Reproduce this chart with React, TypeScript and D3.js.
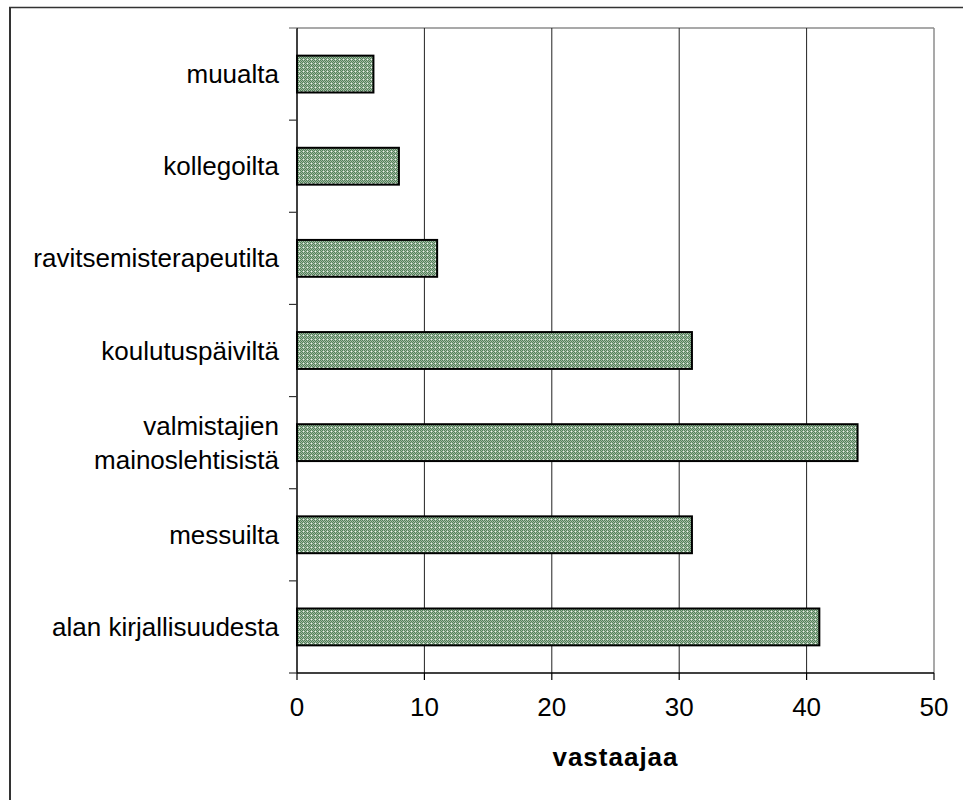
import React from "react";
import * as d3 from "d3";

// Sources of information, top to bottom, and respondent counts
const categories: string[][] = [
  ["muualta"],
  ["kollegoilta"],
  ["ravitsemisterapeutilta"],
  ["koulutuspäiviltä"],
  ["valmistajien", "mainoslehtisistä"],
  ["messuilta"],
  ["alan kirjallisuudesta"],
];
const values: number[] = [6, 8, 11, 31, 44, 31, 41];
const xTicks: number[] = [0, 10, 20, 30, 40, 50];
const xTitle = "vastaajaa";

const W = 963;
const H = 800;
const FONT = "'Liberation Sans', Arial, sans-serif";

export default function App() {
  const left = 297;
  const right = 934;
  const top = 28;
  const bottom = 673;

  const keys = categories.map((c) => c.join(" "));
  const x = d3.scaleLinear().domain([0, 50]).range([left, right]);
  const y = d3
    .scaleBand<string>()
    .domain(keys)
    .range([top, bottom])
    .paddingInner(0.6)
    .paddingOuter(0.3);
  const step = y.step();
  const bounds = d3.range(keys.length + 1).map((i) => top + i * step);

  return (
    <svg
      width={W}
      height={H}
      style={{ position: "absolute", left: 0, top: 0, background: "#fff" }}
    >
      <defs>
        <pattern id="dots" width={4} height={4} patternUnits="userSpaceOnUse">
          <rect width={4} height={4} fill="#a3bba3" />
          <rect x={0} y={0} width={1} height={1} fill="#52805a" />
          <rect x={2} y={0} width={1} height={1} fill="#52805a" />
          <rect x={1} y={1} width={1} height={1} fill="#52805a" />
          <rect x={3} y={1} width={1} height={1} fill="#52805a" />
          <rect x={0} y={2} width={1} height={1} fill="#52805a" />
          <rect x={2} y={2} width={1} height={1} fill="#52805a" />
          <rect x={1} y={3} width={1} height={1} fill="#52805a" />
          <rect x={3} y={3} width={1} height={1} fill="#eef3ee" />
        </pattern>
      </defs>

      {/* outer chart frame */}
      <line x1={9} y1={7.5} x2={W} y2={7.5} stroke="#333" strokeWidth={1.5} />
      <line x1={10} y1={7} x2={10} y2={H} stroke="#333" strokeWidth={2} />

      {/* plot area border (top and right) */}
      <line x1={left} y1={top} x2={right} y2={top} stroke="#8c8c8c" strokeWidth={1.5} />
      <line x1={right} y1={top} x2={right} y2={bottom} stroke="#8c8c8c" strokeWidth={1.5} />

      {/* vertical gridlines */}
      {xTicks
        .filter((t) => t > 0 && t < 50)
        .map((t) => (
          <line
            key={"g" + t}
            x1={x(t)}
            x2={x(t)}
            y1={top}
            y2={bottom}
            stroke="#222"
            strokeWidth={1}
          />
        ))}

      {/* bars */}
      {keys.map((k, i) => (
        <rect
          key={k}
          x={x(0)}
          y={y(k)!}
          width={x(values[i]) - x(0)}
          height={y.bandwidth()}
          fill="url(#dots)"
          stroke="#000"
          strokeWidth={2}
        />
      ))}

      {/* y axis */}
      <line x1={left} y1={top} x2={left} y2={bottom} stroke="#000" strokeWidth={1.5} />
      {bounds.map((b, i) => (
        <line
          key={"yt" + i}
          x1={left - 8}
          x2={left}
          y1={b}
          y2={b}
          stroke={i === 0 ? "#777" : "#333"}
          strokeWidth={1.2}
        />
      ))}

      {/* x axis */}
      <line x1={left} y1={bottom} x2={right} y2={bottom} stroke="#000" strokeWidth={1.5} />
      {xTicks.map((t) => (
        <g key={"xt" + t}>
          <line
            x1={x(t)}
            x2={x(t)}
            y1={bottom}
            y2={bottom + 7}
            stroke="#000"
            strokeWidth={1.2}
          />
          <text
            x={x(t)}
            y={716}
            textAnchor="middle"
            fontFamily={FONT}
            fontSize={26}
            fill="#000"
          >
            {t}
          </text>
        </g>
      ))}

      {/* category labels */}
      {categories.map((lines, i) => {
        const cy = y(keys[i])! + y.bandwidth() / 2;
        const lh = 34;
        const y0 = cy - ((lines.length - 1) * lh) / 2;
        return (
          <text
            key={"c" + i}
            textAnchor="end"
            fontFamily={FONT}
            fontSize={26}
            fill="#000"
          >
            {lines.map((ln, j) => (
              <tspan key={j} x={279} y={y0 + j * lh + 9}>
                {ln}
              </tspan>
            ))}
          </text>
        );
      })}

      {/* axis title */}
      <text
        x={(left + right) / 2}
        y={766}
        textAnchor="middle"
        fontFamily={FONT}
        fontSize={26}
        fontWeight="bold"
        letterSpacing={1}
        fill="#000"
      >
        {xTitle}
      </text>
    </svg>
  );
}
